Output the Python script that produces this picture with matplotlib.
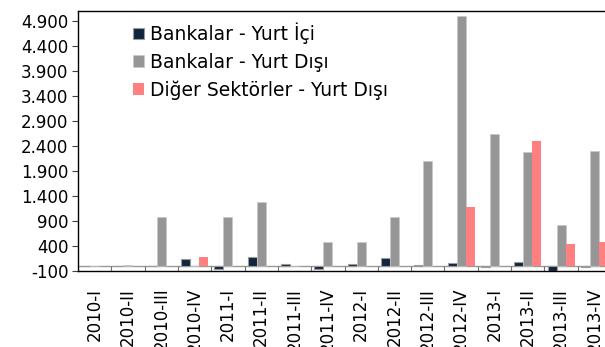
import numpy as np
import matplotlib.pyplot as plt
from matplotlib.ticker import FuncFormatter

donemler = ['2010-I', '2010-II', '2010-III', '2010-IV',
            '2011-I', '2011-II', '2011-III', '2011-IV',
            '2012-I', '2012-II', '2012-III', '2012-IV',
            '2013-I', '2013-II', '2013-III', '2013-IV']
bankalar_yurt_ici = [0, 5, 10, 140, -60, 190, 50, -65, 50, 170, 30, 70, -10, 80, -110, -10]
bankalar_yurt_disi = [0, 20, 990, 0, 990, 1290, 0, 490, 490, 990, 2100, 5000, 2640, 2280, 820, 2300]
diger_yurt_disi = [0, 0, 0, 180, 0, 0, 0, 0, 0, 0, 0, 1190, 0, 2490, 440, 490]

plt.rcParams['font.family'] = 'DejaVu Sans'

fig = plt.figure(figsize=(6.05, 3.47), dpi=100)
ax = fig.add_axes([78 / 605, 76 / 347, 533 / 605, 260 / 347])

x = np.arange(len(donemler))
w = 0.27
ax.bar(x - w, bankalar_yurt_ici, w, color='#12253F', edgecolor='#9A9A9A', linewidth=0.8,
       label='Bankalar - Yurt İçi', zorder=3)
ax.bar(x, bankalar_yurt_disi, w, color='#969696', edgecolor='#C8C8C8', linewidth=0.5,
       label='Bankalar - Yurt Dışı', zorder=3)
ax.bar(x + w, diger_yurt_disi, w, color='#FF8080', edgecolor='none',
       label='Diğer Sektörler - Yurt Dışı', zorder=3)

ax.set_xlim(-0.5, len(donemler) - 0.5)
ax.set_ylim(-100, 5100)
ax.set_yticks(np.arange(-100, 5000, 500))
ax.yaxis.set_major_formatter(FuncFormatter(lambda v, p: f'{v:,.0f}'.replace(',', '.')))
ax.tick_params(axis='y', labelsize=12, length=4, width=0.8, color='#404040', pad=3)

# category axis sits on zero, with separators between quarters
ax.axhline(0, color='#9A9A9A', linewidth=1, zorder=2)
ax.vlines(np.arange(-0.5, len(donemler)), -100, 0, color='#707070', linewidth=0.8, zorder=2)
ax.set_xticks(x)
ax.set_xticklabels(donemler, rotation=90)
ax.tick_params(axis='x', labelsize=12, length=0, pad=12)

for s in ax.spines.values():
    s.set_color('black')
    s.set_linewidth(1)

ax.legend(loc='upper left', bbox_to_anchor=(0.09, 0.985), frameon=False, fontsize=13.5,
          handlelength=0.55, handleheight=0.55, handletextpad=0.35, labelspacing=0.46,
          borderaxespad=0)

fig.savefig('out.png', dpi=100)
